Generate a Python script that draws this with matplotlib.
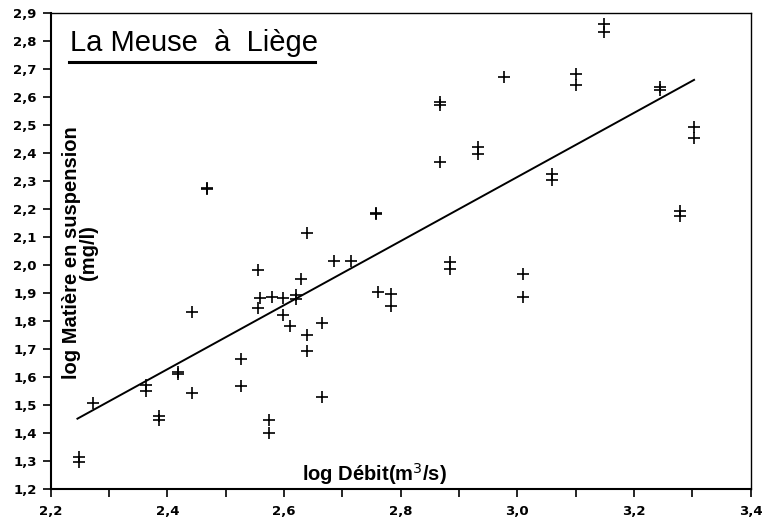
import matplotlib.pyplot as plt
import numpy as np

plt.rcParams['font.family'] = ['Liberation Sans', 'DejaVu Sans']

# log discharge (m3/s) and log suspended matter (mg/l)
log_debit = [2.249, 2.249, 2.273, 2.363, 2.363, 2.386, 2.386, 2.419, 2.419, 2.443,
             2.443, 2.468, 2.468, 2.526, 2.526, 2.556, 2.556, 2.559, 2.575, 2.575,
             2.580, 2.598, 2.598, 2.610, 2.620, 2.620, 2.629, 2.639, 2.639, 2.639,
             2.666, 2.666, 2.685, 2.715, 2.758, 2.758, 2.762, 2.783, 2.783, 2.868,
             2.868, 2.868, 2.885, 2.885, 2.933, 2.933, 2.977, 3.009, 3.009, 3.060,
             3.060, 3.100, 3.100, 3.149, 3.149, 3.244, 3.244, 3.279, 3.279, 3.303,
             3.303]
log_mes = [1.313, 1.295, 1.507, 1.569, 1.549, 1.460, 1.445, 1.618, 1.609, 1.830,
           1.541, 2.275, 2.270, 1.663, 1.568, 1.981, 1.844, 1.880, 1.445, 1.398,
           1.886, 1.880, 1.820, 1.781, 1.893, 1.879, 1.948, 2.114, 1.749, 1.693,
           1.793, 1.529, 2.014, 2.014, 2.186, 2.180, 1.904, 1.895, 1.853, 2.582,
           2.570, 2.366, 2.009, 1.986, 2.421, 2.395, 2.669, 1.968, 1.885, 2.324,
           2.302, 2.681, 2.642, 2.859, 2.830, 2.636, 2.624, 2.193, 2.174, 2.493,
           2.451]

# regression line end points
fit_x = [2.246, 3.303]
fit_y = [1.450, 2.660]

x_ticks = np.arange(2.2, 3.41, 0.2)
y_ticks = np.arange(1.2, 2.91, 0.1)

fig = plt.figure(figsize=(7.62, 5.24), dpi=100)
ax = fig.add_axes([0.0664, 0.0674, 0.9187, 0.9084])

ax.plot(log_debit, log_mes, '+', color='black', markersize=9, markeredgewidth=1.2)
ax.plot(fit_x, fit_y, '-', color='black', linewidth=1.4)

ax.set_xlim(2.2, 3.4)
ax.set_ylim(1.2, 2.9)
ax.set_xticks(x_ticks)
ax.set_xticks(np.arange(2.2, 3.41, 0.1), minor=True)
ax.set_yticks(y_ticks)
tick_font = dict(family='DejaVu Sans', fontsize=9.5, fontweight='bold')
ax.set_xticklabels([f'{v:.1f}'.replace('.', ',') for v in x_ticks], **tick_font)
ax.set_yticklabels([f'{v:.1f}'.replace('.', ',') for v in y_ticks], **tick_font)
ax.tick_params(axis='both', which='both', direction='out', length=6, width=1.2)
ax.tick_params(axis='x', which='major', pad=6)
ax.tick_params(axis='y', which='major', pad=4)

for side in ['left', 'bottom']:
    ax.spines[side].set_linewidth(1.5)
for side in ['right', 'top']:
    ax.spines[side].set_linewidth(1.0)

# titles and labels drawn inside the frame, as in the original
ax.text(0.028, 0.936, 'La Meuse  à  Liège', transform=ax.transAxes,
        fontsize=21, va='center', ha='left')
ax.plot([0.027, 0.378], [0.896, 0.896], transform=ax.transAxes,
        color='black', linewidth=2.2)
ax.text(0.462, 0.03, 'log Débit(m$^3$/s)', transform=ax.transAxes,
        fontsize=14.5, fontweight='bold', ha='center', va='center')
ax.text(0.042, 0.495, 'log Matière en suspension\n(mg/l)', transform=ax.transAxes,
        fontsize=14.5, fontweight='bold', ha='center', va='center', rotation=90,
        multialignment='center', linespacing=0.85)

fig.savefig('out.png', dpi=100)
